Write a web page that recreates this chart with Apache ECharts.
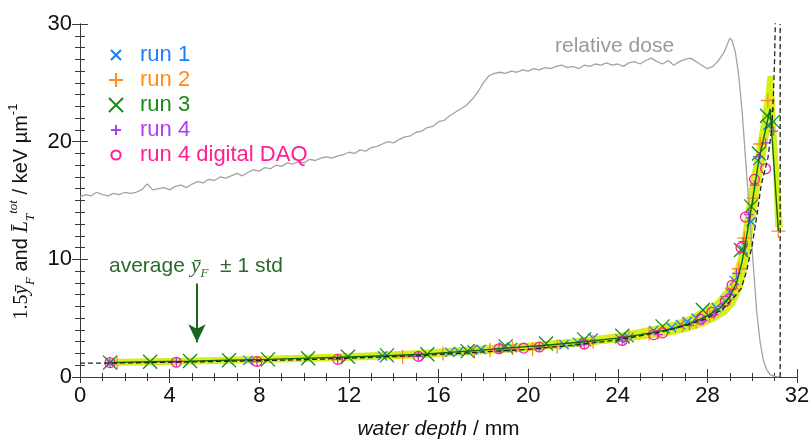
<!DOCTYPE html>
<html>
<head>
<meta charset="utf-8">
<script src="https://cdn.jsdelivr.net/npm/echarts@6/dist/echarts.min.js"></script>
<style>
  html, body { margin: 0; padding: 0; background: #fff; }
  #chart { width: 811px; height: 441px; }
</style>
</head>
<body>
<div id="chart"></div>
<script>
// ---- depth axis ticks (mm) and value axis ticks (keV/µm)
const xTicks = [0, 4, 8, 12, 16, 20, 24, 28, 32];
const yTicks = [0, 10, 20, 30];

// ---- relative dose profile (arbitrary scale), depth in mm
const doseDepth = [0.0,0.25,0.5,0.75,1.0,1.25,1.5,1.75,2.0,2.25,2.5,2.75,3.0,3.25,3.5,3.75,4.0,4.25,4.5,4.75,
  5.0,5.25,5.5,5.75,6.0,6.25,6.5,6.75,7.0,7.25,7.5,7.75,8.0,8.25,8.5,8.75,9.0,9.25,9.5,9.75,
  10.0,10.25,10.5,10.75,11.0,11.25,11.5,11.75,12.0,12.25,12.5,12.75,13.0,13.25,13.5,13.75,14.0,14.25,14.5,14.75,
  15.0,15.25,15.5,15.75,16.0,16.25,16.5,16.75,17.0,17.25,17.5,17.75,18.0,18.25,18.5,18.75,19.0,19.25,19.5,19.75,
  20.0,20.25,20.5,20.75,21.0,21.25,21.5,21.75,22.0,22.25,22.5,22.75,23.0,23.25,23.5,23.75,24.0,24.25,24.5,24.75,
  25.0,25.25,25.5,25.75,26.0,26.25,26.5,26.75,27.0,27.25,27.5,27.75,28.0,28.25,28.5,28.75,29.0,29.1,29.25,29.4,
  29.55,29.7,29.85,30.0,30.1,30.2,30.35,30.5,30.65,30.8,31.0,31.2];
const doseValue = [15.3,15.5,15.4,15.7,15.5,15.4,15.6,15.5,15.7,15.6,15.7,15.9,16.4,15.9,16.0,16.1,15.9,16.2,16.3,16.1,
  16.4,16.6,16.5,16.8,16.7,17.0,16.9,17.1,17.3,17.1,17.4,17.6,17.5,17.8,17.7,18.0,17.9,18.2,18.1,18.3,
  18.2,18.5,18.4,18.6,18.7,18.6,18.8,18.9,19.1,19.0,19.3,19.2,19.5,19.6,19.8,20.0,19.9,20.2,20.4,20.5,
  20.8,20.9,21.2,21.3,21.7,21.8,22.2,22.5,22.8,23.1,23.6,24.2,25.0,25.6,25.8,25.9,25.8,26.0,25.9,26.1,
  26.0,26.2,26.1,26.3,26.2,26.4,26.5,26.3,26.4,26.2,26.5,26.4,26.6,26.5,26.7,26.5,26.6,26.4,26.7,26.8,
  26.6,26.9,27.1,26.8,26.6,26.9,26.5,26.8,27.0,27.1,26.8,26.5,26.2,26.4,26.9,27.6,28.8,28.6,27.6,25.6,
  22.6,18.6,14.8,10.8,8.2,5.6,3.0,1.4,0.6,0.2,0.05,0.0];

// ---- measured lineal energy, 1.5 * yF (keV/µm) per run: [depth mm, value]
const run1 = [[1.34,1.22],[7.5,1.42],[13.5,1.8],[16.5,2.1],[16.9,2.15],[17.5,2.3],[17.9,2.35],[18.9,2.55],[19.3,2.5],
  [21.6,2.75],[22.2,2.95],[22.9,3.3],[24.1,3.25],[24.5,3.35],[25.6,3.95],[26.4,4.2],[26.8,4.45],[27.1,4.7],[27.5,5.0],
  [28.4,5.9],[28.8,6.5],[29.0,7.2],[29.2,8.2],[29.6,10.8],[29.95,13.2],[30.25,18.4],[30.7,21.4]];
const run2 = [[1.65,1.22],[14.4,1.72],[16.2,2.0],[17.6,2.2],[18.3,2.3],[19.3,2.45],[20.2,2.35],[21.3,2.6],[22.9,3.0],
  [24.5,3.4],[25.4,3.7],[26.9,4.4],[27.5,4.7],[28.1,5.2],[28.9,6.6],[29.1,7.5],[29.4,9.2],[29.65,11.8],[30.05,15.2],
  [30.36,19.8],[30.7,23.5],[31.17,12.4]];
const run3 = [[1.34,1.22],[3.13,1.3],[4.91,1.36],[6.65,1.43],[8.39,1.5],[10.18,1.6],[11.96,1.72],[13.7,1.84],[15.5,1.93],
  [17.3,2.2],[19.0,2.6],[20.8,2.85],[22.5,3.2],[24.2,3.5],[26.0,4.3],[27.8,5.7],[29.5,10.8],[29.95,14.5],[30.3,19.0],
  [30.66,22.2],[30.94,21.7]];
const run4 = [[1.34,1.22],[4.3,1.25],[7.9,1.32],[11.5,1.5],[15.1,1.75],[18.7,2.4],[20.5,2.55],[22.5,2.8],[24.2,3.05],
  [25.8,3.6],[27.2,4.4],[27.8,4.8],[28.3,5.3],[28.7,6.0],[29.0,7.0],[29.3,8.8],[29.6,11.5],[29.85,13.8],[30.1,16.3],
  [30.3,18.7],[30.6,19.9],[30.95,20.9]];
const run4Digital = [[1.34,1.22],[4.3,1.25],[7.9,1.32],[11.5,1.5],[15.1,1.75],[18.7,2.4],[19.8,2.45],[20.5,2.55],[22.5,2.8],
  [24.2,3.1],[25.6,3.6],[26.0,3.75],[27.7,4.9],[28.2,5.5],[28.8,6.45],[29.1,7.8],[29.5,11.0],[29.7,13.6],[30.1,16.8],
  [30.6,17.7]];

// ---- average over runs and its ±1 std envelope
const average = [[1.3,1.22],[3.1,1.3],[4.9,1.35],[6.6,1.42],[8.4,1.5],[10.2,1.6],[12.0,1.7],[13.7,1.8],[15.5,1.95],
  [17.3,2.2],[19.0,2.45],[20.8,2.7],[22.5,3.0],[24.2,3.35],[25.5,3.75],[26.5,4.15],[27.3,4.6],[28.0,5.2],[28.6,5.9],
  [29.0,6.8],[29.3,8.0],[29.55,9.8],[29.8,12.5],[30.05,15.4],[30.3,18.5],[30.55,20.6],[30.8,22.8],[31.17,12.4]];
const stdUpper = [[1.2,1.52],[4,1.62],[8,1.78],[12,2.02],[15,2.27],[18,2.67],[20,2.92],[22,3.27],[24,3.72],[25.5,4.3],
  [26.5,4.7],[27.2,5.2],[27.8,5.8],[28.4,6.5],[29.0,7.9],[29.45,10.6],[29.69,13.8],[29.91,16.7],[30.13,18.7],[30.36,21.2],
  [30.58,23.8],[30.68,25.6],[30.92,25.6],[30.95,25.2],[31.07,21.2],[31.22,17.0],[31.37,12.7]];
const stdLower = [[1.2,0.93],[4,1.03],[8,1.18],[12,1.38],[15,1.58],[18,1.93],[20,2.18],[22,2.53],[24,2.93],[25.5,3.3],
  [26.5,3.6],[27.2,3.9],[27.8,4.3],[28.4,4.8],[28.9,5.4],[29.25,6.2],[29.6,7.7],[29.9,10.5],[30.13,13.6],[30.36,16.2],
  [30.58,18.4],[30.73,20.4],[30.8,21.0],[30.88,20.4],[30.95,17.0],[31.03,12.7]];

// ---- calculated total LET, L_T^tot (keV/µm)
const letTotal = [[0,1.18],[1.3,1.18],[5,1.28],[10,1.47],[15,1.8],[20,2.35],[22,2.7],[24,3.15],[26,3.85],[27,4.35],
  [28,5.0],[28.7,5.8],[29.2,6.8],[29.5,7.5],[29.75,9.0],[30.0,11.2],[30.2,13.6],[30.4,16.3],[30.7,18.6],[30.88,21.2],
  [30.95,24.1],[31.0,27.0],[31.04,31]];
// end of the water phantom range
const rangeEnd = [[31.25,0],[31.25,30]];

// ---- marker shapes (stroke-only paths; small ones padded inside the same box)
const X_BIG = 'path://M0,0L14,14M14,0L0,14';
const X_SMALL = 'path://M0,0L0,0M14,14L14,14M2,2L12,12M12,2L2,12';
const P_BIG = 'path://M7,0L7,14M0,7L14,7';
const P_SMALL = 'path://M0,0L0,0M14,14L14,14M7,2L7,12M2,7L12,7';
const O_SMALL = 'path://M0,0L0,0M14,14L14,14M11.6,7A4.6,4.6,0,1,1,2.4,7A4.6,4.6,0,1,1,11.6,7Z';

const C = {
  run1: '#1a7fff', run2: '#ff8c1a', run3: '#168c16', run4: '#b23cf0', run4d: '#ff1f93',
  avg: '#0b6b0b', band: '#d4ef1c', dose: '#a3a3a3', ink: '#222222', note: '#2b6a2b'
};
const SANS = 'Liberation Sans, Arial, sans-serif';
const SERIF = 'Liberation Serif, Times New Roman, serif';

function markerSeries(name, data, symbol, size, color) {
  return {
    name, type: 'scatter', data, symbol, symbolSize: size, z: 4, silent: true,
    itemStyle: { color: 'rgba(0,0,0,0)', borderColor: color, borderWidth: 1.3, opacity: 1 }
  };
}

const chart = echarts.init(document.getElementById('chart'), null, { renderer: 'canvas' });

const axisLine = { show: true, lineStyle: { color: '#3a3a3a', width: 1 } };

chart.setOption({
  animation: false,
  backgroundColor: '#ffffff',
  grid: { left: 80, right: 14, top: 24, bottom: 64, containLabel: false, outerBoundsMode: 'none' },
  xAxis: [
    {
      type: 'value', min: xTicks[0], max: xTicks[xTicks.length - 1], interval: 4, position: 'bottom',
      axisLine, splitLine: { show: false },
      axisTick: { show: true, inside: true, length: 8, lineStyle: { color: '#3a3a3a' } },
      minorTick: { show: true, splitNumber: 4, length: 4, lineStyle: { color: '#3a3a3a' } },
      axisLabel: { show: true, margin: 8, fontSize: 22, color: '#111', fontFamily: SANS },
      name: '{i|water depth}{r| / mm}', nameLocation: 'middle', nameGap: 42,
      nameTextStyle: {
        rich: {
          i: { fontSize: 21, fontStyle: 'italic', fontFamily: SANS, color: '#111' },
          r: { fontSize: 21, fontFamily: SANS, color: '#111' }
        }
      }
    },
    {
      type: 'value', min: xTicks[0], max: xTicks[xTicks.length - 1], interval: 4, position: 'top',
      axisLine, splitLine: { show: false }, axisLabel: { show: false },
      axisTick: { show: true, inside: true, length: 6, lineStyle: { color: '#3a3a3a' } },
      minorTick: { show: true, splitNumber: 4, length: 4, lineStyle: { color: '#3a3a3a' } }
    }
  ],
  yAxis: [
    {
      type: 'value', min: yTicks[0], max: yTicks[yTicks.length - 1], interval: 10, position: 'left',
      axisLine, splitLine: { show: false },
      axisTick: { show: true, inside: true, length: 8, lineStyle: { color: '#3a3a3a' } },
      minorTick: { show: true, splitNumber: 10, length: 5, lineStyle: { color: '#3a3a3a' } },
      axisLabel: { show: true, margin: 8, fontSize: 22, color: '#111', fontFamily: SANS },
      name: '{n|1.5}{mi|ȳ}{sub|F}{s| and }{mi|L\u0304}{sub|T}{sup|tot}{s| / keV µm}{sup2|-1}',
      nameLocation: 'middle', nameRotate: 90, nameGap: 41,
      nameTextStyle: {
        padding: [0, 22, 0, 0],
        rich: {
          n: { fontSize: 20, fontFamily: SERIF, color: '#111', lineHeight: 30 },
          mi: { fontSize: 21, fontFamily: SERIF, fontStyle: 'italic', color: '#111', lineHeight: 30 },
          sub: { fontSize: 13, fontFamily: SERIF, fontStyle: 'italic', color: '#111', lineHeight: 14, verticalAlign: 'bottom' },
          sup: { fontSize: 13, fontFamily: SERIF, fontStyle: 'italic', color: '#111', lineHeight: 14, verticalAlign: 'top' },
          s: { fontSize: 20, fontFamily: SANS, color: '#111', lineHeight: 30 },
          sup2: { fontSize: 13, fontFamily: SANS, color: '#111', lineHeight: 14, verticalAlign: 'top' }
        }
      }
    },
    {
      type: 'value', min: yTicks[0], max: yTicks[yTicks.length - 1], interval: 10, position: 'right',
      axisLine, splitLine: { show: false }, axisLabel: { show: false },
      axisTick: { show: true, inside: true, length: 8, lineStyle: { color: '#3a3a3a' } },
      minorTick: { show: true, splitNumber: 10, length: 5, lineStyle: { color: '#3a3a3a' } }
    }
  ],
  legend: {
    orient: 'vertical', left: 108, top: 44, padding: 0, itemGap: 3,
    itemWidth: 14, itemHeight: 14, selectedMode: false,
    textStyle: { fontSize: 22, fontFamily: SANS, padding: [0, 0, 0, 12] },
    data: [
      { name: 'run 1', textStyle: { color: C.run1 } },
      { name: 'run 2', textStyle: { color: C.run2 } },
      { name: 'run 3', textStyle: { color: C.run3 } },
      { name: 'run 4', textStyle: { color: C.run4 } },
      { name: 'run 4 digital DAQ', textStyle: { color: C.run4d } }
    ]
  },
  graphic: [
    {
      type: 'text', left: 555, top: 36, silent: true,
      style: { text: 'relative dose', fontSize: 21, fontFamily: SANS, fill: '#9a9a9a' }
    },
    {
      type: 'text', left: 109, top: 255, silent: true,
      style: {
        text: '{t|average }{mi|ȳ}{sub|F}{t|  ± 1 std}',
        rich: {
          t: { fontSize: 21, fontFamily: SANS, fill: C.note, lineHeight: 28 },
          mi: { fontSize: 22, fontFamily: SERIF, fontStyle: 'italic', fill: C.note, lineHeight: 28 },
          sub: { fontSize: 13, fontFamily: SERIF, fontStyle: 'italic', fill: C.note, lineHeight: 13, verticalAlign: 'bottom' }
        }
      }
    }
  ],
  series: [
    {
      // ±1 std envelope of the averaged runs
      name: 'band', type: 'custom', silent: true, z: 1, clip: true,
      data: [0],
      renderItem: function (params, api) {
        const pts = stdUpper.map(p => api.coord(p)).concat(stdLower.slice().reverse().map(p => api.coord(p)));
        return { type: 'polygon', shape: { points: pts }, style: { fill: C.band } };
      }
    },
    {
      name: 'relative dose', type: 'line', silent: true, z: 2, showSymbol: false, symbol: 'none',
      data: doseDepth.map((d, i) => [d, doseValue[i]]),
      lineStyle: { color: C.dose, width: 1.3 }
    },
    markerSeries('run 1', run1, X_SMALL, 13, C.run1),
    markerSeries('run 2', run2, P_BIG, 14, C.run2),
    markerSeries('run 3', run3, X_BIG, 14, C.run3),
    markerSeries('run 4', run4, P_SMALL, 13, C.run4),
    markerSeries('run 4 digital DAQ', run4Digital, O_SMALL, 15, C.run4d),
    {
      name: 'average', type: 'line', silent: true, z: 6, showSymbol: false, symbol: 'none',
      data: average, lineStyle: { color: C.avg, width: 1.4 },
      markLine: {
        silent: true, symbol: ['none', 'arrow'], symbolSize: [13, 18], animation: false,
        label: { show: false },
        lineStyle: { color: '#17661c', width: 2, type: 'solid' },
        data: [[{ coord: [5.22, 7.95] }, { coord: [5.22, 2.95] }]]
      }
    },
    {
      name: 'L_T tot', type: 'line', silent: true, z: 7, showSymbol: false, symbol: 'none', clip: true,
      data: letTotal, lineStyle: { color: C.ink, width: 1.3, type: [5, 3] }
    },
    {
      name: 'range end', type: 'line', silent: true, z: 7, showSymbol: false, symbol: 'none',
      data: rangeEnd, lineStyle: { color: C.ink, width: 1.3, type: [5, 3] }
    }
  ]
});
</script>
</body>
</html>
